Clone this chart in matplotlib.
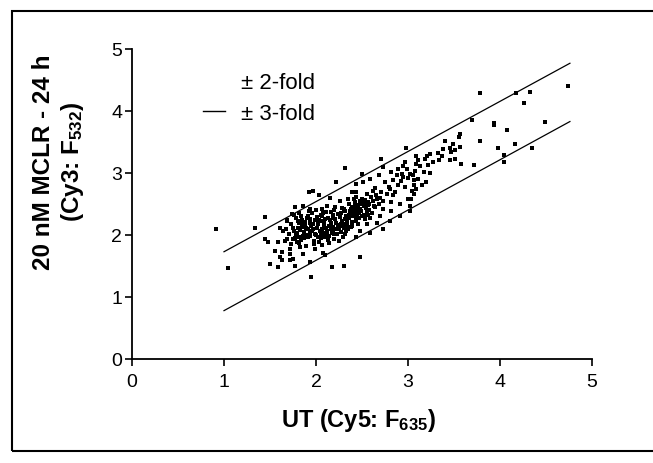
import matplotlib
matplotlib.use("Agg")
import matplotlib.pyplot as plt
from matplotlib.lines import Line2D
from matplotlib.patches import Rectangle
import numpy as np

plt.rcParams["font.family"] = ["Liberation Sans", "DejaVu Sans"]
plt.rcParams["mathtext.fontset"] = "custom"
plt.rcParams["mathtext.rm"] = "Liberation Sans:bold"
plt.rcParams["mathtext.bf"] = "Liberation Sans:bold"
plt.rcParams["mathtext.it"] = "Liberation Sans:bold:italic"

# log10 intensities (UT on x, 20 nM MCLR on y), grouped by region of the cloud
left_spots = [
    (0.91, 2.10), (1.04, 1.46), (1.45, 2.29), (1.34, 2.12), (1.74, 2.34), (1.68, 2.23),
    (1.61, 2.12), (1.64, 2.07), (1.45, 1.94), (1.48, 1.88), (1.59, 1.88), (1.66, 1.91),
    (1.75, 1.94), (1.55, 1.75), (1.63, 1.72), (1.72, 1.69), (1.61, 1.64), (1.63, 1.59),
    (1.72, 1.59), (1.59, 1.48), (1.50, 1.53), (1.77, 1.50),
    (1.86, 1.69), (2.10, 1.67), (1.75, 1.61), (1.93, 1.56), (2.17, 1.48), (2.30, 1.50),
    (1.95, 1.33), (1.79, 1.88), (1.72, 1.77), (1.83, 1.80), (1.99, 1.77), (2.48, 1.64),
    (2.08, 1.71),
    (2.32, 3.08), (2.22, 2.86), (1.97, 2.71), (1.92, 2.69), (2.03, 2.65), (2.39, 2.69),
    (2.44, 2.82), (2.15, 2.59), (2.26, 2.55), (2.35, 2.58), (1.77, 2.45), (1.86, 2.47),
    (1.93, 2.42), (2.06, 2.42), (2.12, 2.47), (2.21, 2.45), (2.30, 2.42), (2.39, 2.45),
]

core_spots = [
    (1.76, 2.33), (1.82, 2.36), (1.91, 2.31), (1.96, 2.35), (2.05, 2.33), (2.11, 2.37),
    (2.18, 2.32), (2.27, 2.36), (2.33, 2.31), (2.40, 2.35),
    (1.69, 2.25), (1.78, 2.27), (1.85, 2.24), (1.90, 2.28), (1.99, 2.25), (2.07, 2.22),
    (2.13, 2.28), (2.21, 2.26), (2.28, 2.23), (2.36, 2.27), (2.43, 2.24),
    (1.73, 2.17), (1.81, 2.19), (1.88, 2.15), (1.94, 2.20), (2.02, 2.17), (2.09, 2.14),
    (2.16, 2.19), (2.24, 2.16), (2.31, 2.18), (2.38, 2.13),
    (1.67, 2.09), (1.75, 2.11), (1.83, 2.08), (1.89, 2.12), (1.97, 2.09), (2.04, 2.06),
    (2.11, 2.11), (2.19, 2.08), (2.25, 2.12), (2.33, 2.07),
    (1.71, 2.01), (1.79, 2.03), (1.86, 1.99), (1.93, 2.04), (2.00, 2.00), (2.08, 2.03),
    (2.14, 1.98), (2.23, 2.02), (2.29, 1.97),
    (1.69, 1.93), (1.77, 1.95), (1.84, 1.92), (1.91, 1.96), (1.98, 1.91), (2.05, 1.95),
    (2.13, 1.92), (2.20, 1.94),
    (1.73, 1.85), (1.82, 1.87), (1.89, 1.83), (1.98, 1.86), (2.07, 1.84), (2.14, 1.87),
    (1.80, 2.22), (1.87, 2.05), (1.95, 2.14), (2.01, 2.29), (2.06, 2.10), (2.10, 1.96),
    (2.15, 2.24), (2.17, 2.04), (2.22, 2.20), (2.26, 2.29), (2.30, 2.11), (2.34, 2.21),
    (2.37, 2.38), (2.41, 2.30), (2.44, 2.41), (2.47, 2.36), (1.92, 2.38), (2.00, 2.40),
    (2.03, 1.89), (1.85, 2.13), (1.78, 2.00), (2.12, 2.02), (1.94, 1.98), (2.25, 1.90),
    (1.84, 2.30), (1.88, 2.21), (1.93, 2.26), (1.97, 2.18), (2.01, 2.12), (2.03, 2.24),
    (2.06, 2.30), (2.09, 2.19), (2.12, 2.06), (2.14, 2.15), (2.18, 2.13), (2.19, 2.28),
    (2.23, 2.09), (2.24, 2.34), (2.27, 2.05), (2.29, 2.15), (2.32, 2.26), (2.35, 2.10),
    (2.36, 2.33), (2.39, 2.21), (2.42, 2.38), (2.45, 2.31), (2.46, 2.46), (2.49, 2.39),
    (2.52, 2.33), (2.53, 2.56), (2.56, 2.48), (2.58, 2.41), (2.62, 2.55), (2.63, 2.47),
    (1.96, 2.07), (1.99, 2.02), (2.02, 1.97), (2.05, 2.01), (1.90, 2.00), (1.87, 1.95),
    (1.81, 1.97), (1.76, 2.06), (1.80, 2.12), (1.86, 2.18), (1.91, 2.09), (2.16, 2.09),
    (2.20, 2.01), (2.27, 2.18), (2.31, 2.02), (2.34, 2.16), (2.10, 2.26), (2.08, 2.35),
    (2.16, 2.37), (2.20, 2.40), (2.28, 2.44), (2.32, 2.38), (2.38, 2.42), (2.42, 2.48),
    (2.48, 2.50), (2.55, 2.52),
]

mid_spots = [
    (2.97, 3.17), (2.95, 3.12), (2.99, 3.06), (2.89, 3.06), (2.93, 2.98), (3.02, 2.98),
    (3.06, 2.88), (2.82, 3.01), (2.73, 3.09), (2.68, 2.96), (2.59, 2.90), (2.51, 2.85),
    (2.75, 2.85), (2.84, 2.88), (2.89, 2.80), (2.97, 2.77), (2.80, 2.74), (2.71, 2.69),
    (2.62, 2.71), (2.55, 2.66), (2.44, 2.69), (2.84, 2.64), (3.00, 2.58), (3.02, 2.47),
    (2.91, 2.50), (2.82, 2.53), (2.73, 2.55), (2.66, 2.58), (2.57, 2.53), (2.48, 2.55),
    (2.41, 2.58), (2.82, 2.39), (2.73, 2.42), (2.64, 2.45), (2.55, 2.39), (2.48, 2.42),
    (2.41, 2.45), (2.91, 2.31), (3.02, 2.39), (2.70, 2.31), (2.59, 2.28), (2.50, 2.31),
    (2.42, 2.34), (2.80, 2.23), (2.66, 2.20), (2.55, 2.18), (2.44, 2.23), (2.39, 2.15),
    (2.73, 2.10), (2.59, 2.04), (2.48, 2.07), (2.44, 1.96), (2.42, 2.53), (2.52, 2.47),
    (2.39, 2.31), (2.46, 2.18), (2.53, 2.26),
    (2.45, 2.49), (2.50, 2.58), (2.54, 2.44), (2.58, 2.50), (2.61, 2.36), (2.47, 2.28),
    (2.56, 2.33), (2.51, 2.52), (2.43, 2.61), (2.36, 2.50), (2.60, 2.62), (2.68, 2.50),
    (2.71, 3.23), (2.98, 3.40), (2.50, 2.98),
    (2.65, 2.64), (2.70, 2.60), (2.77, 2.66), (2.79, 2.78), (2.86, 2.70), (2.92, 2.87),
    (2.95, 2.93), (3.00, 2.92), (2.88, 2.97), (2.64, 2.76),
]

upper_spots = [
    (3.78, 4.29), (3.70, 3.86), (3.78, 3.52), (3.72, 3.13), (3.57, 3.63), (3.55, 3.58),
    (3.40, 3.52), (3.49, 3.47), (3.57, 3.42), (3.46, 3.41), (3.38, 3.38), (3.47, 3.34),
    (3.51, 3.37), (3.33, 3.33), (3.37, 3.27), (3.24, 3.31), (3.21, 3.28), (3.18, 3.23),
    (3.46, 3.21), (3.51, 3.23), (3.58, 3.15), (3.34, 3.21), (3.27, 3.18), (3.09, 3.27),
    (3.11, 3.21), (3.09, 3.15), (3.13, 3.11), (3.22, 3.13), (3.08, 3.04), (3.17, 3.01),
    (3.24, 3.00), (3.05, 2.96), (3.11, 2.90), (3.20, 2.86), (3.06, 2.81), (3.15, 2.80),
    (3.09, 2.75), (3.04, 2.71), (3.07, 2.66), (3.03, 2.58),
    (4.74, 4.41), (4.17, 4.29), (4.33, 4.30), (4.26, 4.13), (4.49, 3.83), (3.93, 3.80),
    (3.93, 3.77), (4.08, 3.70), (3.98, 3.40), (4.16, 3.46), (4.35, 3.40), (4.04, 3.29),
    (4.04, 3.18),
]

# +/- 3-fold boundaries around the fit, end points
fold_x = [1.0, 4.76]
upper_fold = [1.73, 4.77]
lower_fold = [0.78, 3.83]

spots = np.array(left_spots + core_spots + mid_spots + upper_spots)

fig = plt.figure(figsize=(6.53, 4.64), dpi=100)
ax = fig.add_axes([132 / 653, 1 - 360 / 464, 460 / 653, 310 / 464])

ax.scatter(spots[:, 0], spots[:, 1], s=5, marker="s", c="black", linewidths=0)
ax.plot(fold_x, upper_fold, color="black", lw=0.9)
ax.plot(fold_x, lower_fold, color="black", lw=0.9)

ax.set_xlim(0, 5)
ax.set_ylim(0, 5)
ax.set_xticks(range(6))
ax.set_yticks(range(6))
ax.spines["top"].set_visible(False)
ax.spines["right"].set_visible(False)
for side in ("left", "bottom"):
    ax.spines[side].set_linewidth(1.3)
ax.tick_params(direction="out", length=5, width=1.2, labelsize=14)
ax.tick_params(axis="x", pad=5)
ax.tick_params(axis="y", pad=2)

handles = [Line2D([], [], color="none"), Line2D([], [], color="black", lw=1)]
ax.legend(handles, ["\u00b1 2-fold", "\u00b1 3-fold"], loc="upper left",
          bbox_to_anchor=(0.154, 0.925), frameon=False, fontsize=16,
          handlelength=1.0, handletextpad=0.7, labelspacing=0.45, borderpad=0,
          borderaxespad=0)

fig.text(59 / 653, 1 - 162 / 464, "20 nM MCLR - 24 h\n(Cy3: F$_{532}$)",
         rotation=90, ha="center", va="center", fontsize=17.5, fontweight="bold",
         multialignment="center", linespacing=1.2)
fig.text(358 / 653, 1 - 421 / 464, "UT (Cy5: F$_{635}$)", ha="center", va="center",
         fontsize=17, fontweight="bold")

fig.add_artist(Rectangle((12 / 653, 1 - 452 / 464), 1.0, 440 / 464,
                         transform=fig.transFigure, fill=False, lw=1.5,
                         ec="black", clip_on=False))

fig.savefig("out.png", dpi=100)
